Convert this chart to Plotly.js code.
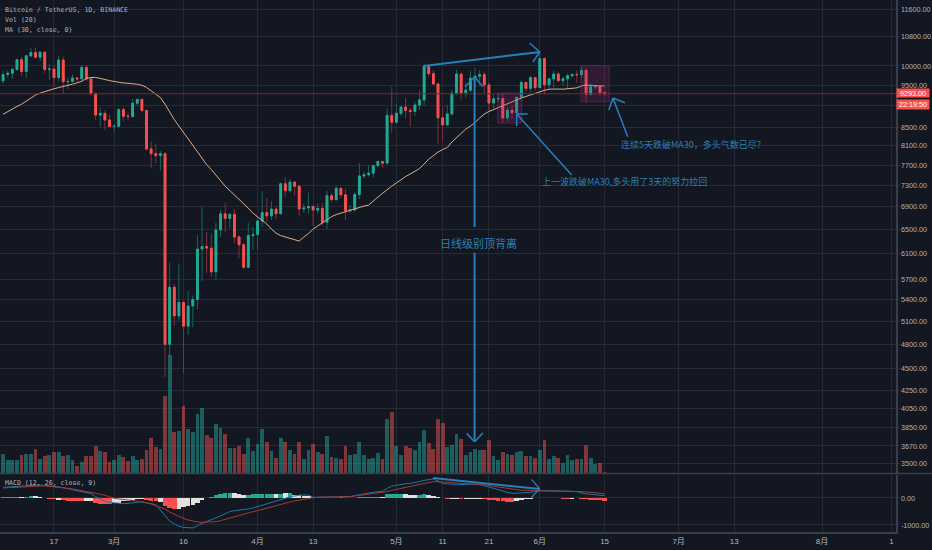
<!DOCTYPE html>
<html><head><meta charset="utf-8">
<script src="https://cdn.plot.ly/plotly-3.0.1.min.js"></script>
<style>html,body{margin:0;padding:0;background:#131722}#c{width:932px;height:550px}</style>
</head><body><div id="c"></div>
<script>
const firstDay = '2020-02-06';
const open = [9618,9777,9812,9910,10167,9855,10272,10360,10234,10371,9910,9920,9700,10160,9595,9601,9690,9665,9965,9663,9303,8785,8825,8672,
8523,8531,8913,8760,8752,9065,9155,8895,8035,7935,7895,7935,4800,5578,5172,5360,5034,5310,5400,6170,6210,6185,5810,6490,6770,6690,6760,6370,6240,5880,6395,
6412,6643,6794,6734,6856,6772,7329,7197,7361,7283,6858,6876,6903,6838,6868,6621,7101,7029,7242,7120,6826,6841,7125,7482,7505,7538,7693,7774,7738,8778,
8620,8826,8972,8894,8871,9021,9143,9986,9800,9539,8722,8561,8810,9309,9791,9316,9381,9680,9733,9775,9511,9068,9170,9179,8720,8900,8841,9204,9575,9427,9697,
9448,10200,9518,9666,9789,9621,9666,9746,9782,9772,9885,9280,9465,9474,9325];
const high = [9870,9880,9950,10180,10240,10290,10485,10500,10385,10385,10050,10030,10270,10250,9700,9780,9700,10025,10025,9670,9320,8970,8900,8795,
8580,8940,8960,8840,9170,9170,9180,8900,8190,8150,7990,7966,5960,5630,5940,5380,5525,5460,6400,6900,6450,6430,6610,6840,6970,6790,6860,6400,6270,6610,6540,
6680,7190,7060,7000,6900,7350,7460,7420,7380,7300,6960,7160,6925,6960,6970,7190,7150,7290,7260,7220,6930,7170,7740,7570,7700,7700,7795,7780,8950,9460,
9060,8995,9190,8950,9100,9380,10068,10040,9900,9570,8980,9020,9390,9900,9830,9580,9880,9950,9890,9860,9570,9270,9320,9300,8970,9010,9220,9625,9600,9740,9700,
10380,10230,9690,9880,9850,9730,9800,9800,9880,9990,9940,9555,9490,9495,9330];
const low = [9537,9700,9663,9880,9740,9690,10240,10190,10130,9810,9640,9470,9600,9300,9410,9570,9570,9600,9620,9230,8675,8520,8447,8510,
8411,8500,8640,8660,8730,9000,8850,8000,7640,7730,7590,4402,3782,5040,5110,4450,4920,5020,5260,5670,5790,5730,5690,6370,6450,6520,6270,6020,5860,5870,6150,
6150,6540,6630,6660,6675,6770,7070,7160,7110,6730,6790,6770,6560,6780,6560,6500,6990,7010,7055,6660,6790,6800,7040,7430,7470,7450,7660,7650,7730,8380,
8620,8760,8700,8520,8760,8900,9010,9720,9520,8130,8200,8550,8780,9260,9130,9190,9330,9470,9480,9300,8880,8950,9090,8630,8640,8700,8810,9110,9330,9340,9380,
9420,9270,9380,9450,9580,9500,9420,9700,9570,9700,9080,9250,9400,9250,9250];
const close = [9777,9812,9910,10167,9855,10272,10360,10234,10371,9910,9920,9700,10160,9595,9601,9690,9665,9965,9663,9303,8785,8825,8672,8523,
8531,8913,8760,8752,9065,9155,8895,8035,7935,7895,7935,4800,5578,5172,5360,5034,5310,5400,6170,6210,6185,5810,6490,6770,6690,6760,6370,6240,5880,6395,6412,
6643,6794,6734,6856,6772,7329,7197,7361,7283,6858,6876,6903,6838,6868,6621,7101,7029,7242,7120,6826,6841,7125,7482,7505,7538,7693,7774,7738,8778,8620,
8826,8972,8894,8871,9021,9143,9986,9800,9539,8722,8561,8810,9309,9791,9316,9381,9680,9733,9775,9511,9068,9170,9179,8720,8900,8841,9204,9575,9427,9697,9448,
10200,9518,9666,9789,9621,9666,9746,9782,9772,9885,9280,9465,9474,9325,9293];
const ma30 = [8803,8868,8926,8988,9042,9120,9203,9262,9310,9350,9381,9416,9446,9471,9497,9532,9566,9604,9675,9701,9704,9683,9658,9622,
9600,9577,9562,9554,9544,9529,9504,9449,9366,9288,9202,9042,8857,8683,8535,8390,8258,8118,7969,7833,7709,7609,7489,7391,7283,7198,7112,7046,6962,6872,6782,
6712,6650,6591,6503,6435,6393,6368,6351,6317,6301,6368,6427,6503,6555,6615,6659,6721,6757,6784,6811,6829,6856,6883,6910,6928,7011,7076,7146,7218,7283,
7345,7411,7470,7520,7579,7630,7720,7822,7895,7969,8022,8065,8182,8280,8380,8467,8535,8613,8717,8810,8868,8915,8962,9010,9059,9107,9141,9190,9227,9268,9307,
9344,9378,9406,9416,9411,9406,9411,9418,9439,9486,9511,9498,9490,9488,9486];
const volume = [19.3,13.3,13.3,13.3,18,18.7,18.7,24,14.3,17,17.7,21,20.7,16.7,18,12.7,7.3,11.3,16.7,16.7,27.3,22,21.3,11.3,
13.3,18.3,16.3,12,17.3,13.3,13.7,23.3,35,25.7,23.7,76.7,118,40.7,41.7,66.7,44.3,40.7,58.7,65,38,35.3,48.7,45,39.3,24.7,24.7,27.3,19,35.3,22,
29.3,44.3,31,22,15.3,35.3,31,23,19,31,13.7,22.7,28.7,21,18.7,37.3,16,15.3,13.7,26.7,18,18.7,30.7,18,13.7,15.3,19.7,14.3,54.3,61,
27,17.7,26.7,25,22.7,31.3,43.3,30,24.3,54.3,50,26,27.7,38.7,34.3,18,20.7,24.3,23.3,22.7,32.7,17.3,13.3,21,19,17.7,20.7,22.3,17.3,16.7,14.7,
22.7,32.7,14.3,17,15.3,10,17.7,12.7,13.7,14.3,28.3,15.3,9,9.7,1.3];
const macdLine = [395,408,420,432,445,457,469,482,482,469,457,445,408,383,346,309,284,247,210,161,49,-49,-124,-161,
-185,-210,-210,-198,-185,-161,-136,-173,-198,-247,-445,-667,-852,-963,-1050,-1087,-1112,-1112,-1025,-939,-865,-803,-741,-667,-580,-506,-469,-457,-445,-408,-371,
-321,-272,-210,-173,-136,-86,-12,49,86,99,111,111,25,25,37,37,37,37,37,49,49,86,124,148,173,210,235,247,358,432,
469,506,531,543,568,605,655,692,704,630,543,519,506,494,494,494,506,519,506,457,420,358,309,247,210,173,173,185,198,210,247,
272,272,272,272,272,259,259,247,235,185,148,136,111,99,86];
const signalLine = [370,380,395,408,420,432,445,445,445,445,432,420,408,383,358,333,309,272,235,210,161,136,99,37,
-12,-37,-49,-62,-74,-111,-148,-173,-222,-284,-333,-408,-519,-605,-679,-753,-815,-865,-889,-902,-902,-889,-877,-840,-790,-729,-679,-630,-580,-531,-506,
-469,-420,-383,-333,-284,-235,-185,-148,-111,-74,-49,-12,12,25,25,37,37,37,37,49,49,74,99,123,136,161,185,198,235,284,
321,358,383,420,445,482,519,568,605,605,593,580,568,556,543,531,519,519,506,494,469,432,407,370,333,309,296,284,284,272,272,
259,259,259,259,259,259,247,247,247,235,222,210,198,173,161];
const histogram = [37,37,49,49,49,49,62,62,49,0,-49,-49,-62,-86,-98,-98,-111,-123,-123,-98,-185,-209,-221,-221,
-185,-185,-123,-98,-62,-49,-37,-74,-111,-123,-135,-308,-369,-394,-406,-344,-308,-271,-172,-74,-12,37,98,135,172,197,172,148,123,123,135,
135,148,148,148,148,148,172,172,123,98,74,62,25,25,12,12,12,12,25,12,12,12,25,37,37,49,49,49,135,160,
160,160,148,123,111,123,148,123,86,49,-12,-37,-37,-25,-37,-37,-37,-37,-37,-37,-62,-86,-98,-123,-135,-148,-111,-86,-49,-25,-12,
12,-12,-12,0,-12,-25,-25,-25,-12,-25,-49,-74,-74,-86,-98];
const histShade = ('ggggwggwwwrrwrrrrrwwrrrrwwwwwwwrrrwrrrwwwwwwwggggg'+'wwwggggggwgwgwwwwgggggggwwggggggwggggwwwggwwwrrwwr'+'wwwwrrrrrrrwwwwwgwwwrrrwwrrrrrr').split('');
const axisTicksX = ['2020-02-17','2020-03-01','2020-03-16','2020-04-01','2020-04-13','2020-05-01','2020-05-11','2020-05-21','2020-06-01','2020-06-15','2020-07-01','2020-07-13','2020-08-01','2020-08-16'];
const axisLabelsX = ['17','3月','16','4月','13','5月','11','21','6月','15','7月','13','8月','1'];
const priceTicks = [11600,10800,10000,9500,9000,8500,8100,7700,7300,6900,6500,6100,5700,5400,5100,4800,4500,4250,4050,3850,3670,3500];
const priceTickHidden = [9000];
const macdTicks = [0,-1000];
const legendLines = ['Bitcoin / TetherUS, 1D, BINANCE','Vol (20)','MA (30, close, 0)'];
const macdLegend = 'MACD (12, 26, close, 9)';
const noteBig = '日线级别顶背离';
const noteMid = '上一波跌破MA30,多头用了3天的努力拉回';
const noteRight = '连续5天跌破MA30，多头气数已尽?';
const lastPriceText = '9293.00';
const countdownText = '22:19:50';
/* analyst's drawings on the chart: [day index, price, day index, price] */
const trendSegments = [
 [90.9,10000,116,10376,2],[113.8,10626,116,10376,1.5],[114.5,10106,116,10376,1.5],
 [101.9,9714,101.9,6539,2],[101.9,6110,101.9,3711,2],
 [99.9,9468,101.9,9714,1.5],[103.7,9468,101.9,9714,1.5],[100.2,3794,101.9,3711,1.5],[103.7,3798,101.9,3711,1.5],
 [122.9,7500,111,8810,1.5],[113.4,8810,111,8810,1.5],[111,8535,111,8810,1.5],
 [135,8298,131.8,9190,1.5],[130.9,8903,131.8,9190,1.5],[134.4,9077,131.8,9190,1.5]];
const macdSegments = [[92.9,740,116,333,2],[114.2,692,116,333,1.2],[114.2,26,116,333,1.2]];
const zoneBoxes = [[106.9,9312,112.1,8604],[124.9,10008,131,9101]];

const C = {bg:'#131722',grid:'#262a35',axis:'#3a3e4a',text:'#b2b5be',up:'#22ab94',down:'#f9504f',upW:'#1a625f',downW:'#7e3138',
  volUp:'rgba(38,166,154,0.5)',volDown:'rgba(239,83,80,0.5)',ma:'#e0ad85',macd:'#1b78ad',sig:'#a53a2e',note:'#2481bd',noteText:'#2a80b2',light:'#e3e0dc'};
const DAY = 86400000, t0 = Date.parse(firstDay+'T00:00:00Z');
const dayAt = i => new Date(t0 + i*DAY).toISOString().slice(0,19).replace('T',' ');
const dates = close.map((_,i)=>dayAt(i));
const W=896,H=532;
const px = x=>x/W, py = y=>1-y/H;
const up = close.map((c,i)=>c>=open[i]);
const mono = '"DejaVu Sans Mono",monospace', sans='"Liberation Sans","Noto Sans CJK SC",sans-serif', cjk='"Noto Sans CJK SC",sans-serif';

const traces = [
 {type:'bar',x:dates,y:volume,xaxis:'x',yaxis:'y',width:DAY*0.82,marker:{color:up.map(u=>u?C.volUp:C.volDown),line:{width:0}},hoverinfo:'skip'},
 {type:'candlestick',x:dates,open,high,low,close,xaxis:'x',yaxis:'y2',whiskerwidth:0,hoverinfo:'skip',
  increasing:{line:{color:C.upW,width:1},fillcolor:C.upW},decreasing:{line:{color:C.downW,width:1},fillcolor:C.downW}},
 {type:'candlestick',x:dates,open,close,high:close.map((c,i)=>Math.max(c,open[i])),low:close.map((c,i)=>Math.min(c,open[i])),xaxis:'x',yaxis:'y2',whiskerwidth:0,hoverinfo:'skip',
  increasing:{line:{color:C.up,width:1},fillcolor:C.up},decreasing:{line:{color:C.down,width:1},fillcolor:C.down}},
 {type:'scatter',mode:'lines',x:dates,y:ma30,xaxis:'x',yaxis:'y2',line:{color:C.ma,width:1},hoverinfo:'skip'},
 {type:'bar',x:dates,y:histogram,xaxis:'x',yaxis:'y3',width:DAY*0.98,marker:{color:histShade.map(s=>s==='g'?C.up:s==='r'?C.down:C.light),line:{width:0}},hoverinfo:'skip'},
 {type:'scatter',mode:'lines',x:dates,y:macdLine,xaxis:'x',yaxis:'y3',line:{color:C.macd,width:1},hoverinfo:'skip'},
 {type:'scatter',mode:'lines',x:dates,y:signalLine,xaxis:'x',yaxis:'y3',line:{color:C.sig,width:1},hoverinfo:'skip'}
];

const shapes = [];
zoneBoxes.forEach(b=>shapes.push({type:'rect',xref:'x',yref:'y2',x0:dayAt(b[0]),x1:dayAt(b[2]),y0:b[1],y1:b[3],layer:'above',
  fillcolor:'rgba(156,39,120,0.22)',line:{color:'rgba(156,39,120,0.45)',width:1}}));
shapes.push({type:'line',xref:'paper',yref:'y2',x0:0,x1:1,y0:close[close.length-1],y1:close[close.length-1],layer:'above',line:{color:'#6e2c33',width:1}});
trendSegments.forEach(s=>shapes.push({type:'line',xref:'x',yref:'y2',x0:dayAt(s[0]),y0:s[1],x1:dayAt(s[2]),y1:s[3],layer:'above',line:{color:C.note,width:s[4]}}));
macdSegments.forEach(s=>shapes.push({type:'line',xref:'x',yref:'y3',x0:dayAt(s[0]),y0:s[1],x1:dayAt(s[2]),y1:s[3],layer:'above',line:{color:C.note,width:s[4]}}));
shapes.push({type:'line',xref:'paper',yref:'paper',x0:0,x1:1+36/W,y0:py(473.5),y1:py(473.5),layer:'above',line:{color:C.axis,width:1.5}});

const label = (text,x,y,size,color,family,anchor)=>({text,xref:'paper',yref:'paper',x:px(x),y:py(y),xanchor:anchor||'left',yanchor:'middle',showarrow:false,font:{size,color,family}});
const annotations = [
 label(legendLines[0],3,10,6.6,C.text,mono),
 label(legendLines[1],3,20,6.6,C.text,mono),
 label(legendLines[2],3,30,6.6,C.text,mono),
 label(macdLegend,3,483,6.6,C.text,mono),
 label(noteBig,478,243,11,C.noteText,cjk,'center'),
 label(noteMid,540,181,9,C.noteText,cjk),
 label(noteRight,619,144,9,C.noteText,cjk),
 {text:lastPriceText,xref:'paper',yref:'paper',x:1,y:py(93.5),xanchor:'left',yanchor:'middle',showarrow:false,bgcolor:C.down,width:32,height:8,borderpad:0,font:{size:7.2,color:'#fff',family:sans}},
 {text:countdownText,xref:'paper',yref:'paper',x:1,y:py(104.5),xanchor:'left',yanchor:'middle',showarrow:false,bgcolor:C.down,width:32,height:9,borderpad:0,font:{size:7.2,color:'#fff',family:sans}}
];

const layout = {
 width:932,height:550,margin:{l:0,r:36,t:0,b:18},paper_bgcolor:C.bg,plot_bgcolor:C.bg,showlegend:false,bargap:0,boxmode:'overlay',boxgap:0.45,
 font:{family:sans,color:C.text,size:7.2},
 xaxis:{type:'date',range:['2020-02-05 08:00','2020-08-16 23:36'],tickmode:'array',tickvals:axisTicksX,ticktext:axisLabelsX,anchor:'y3',
   rangeslider:{visible:false},showgrid:true,gridcolor:C.grid,gridwidth:1,showline:true,linecolor:C.axis,linewidth:1.5,ticks:'',ticklabelstandoff:1,tickangle:0,tickfont:{size:8,family:sans,color:C.text},zeroline:false},
 yaxis:{domain:[1-473/H,1],range:[0,473],visible:false,showgrid:false,zeroline:false,fixedrange:true},
 yaxis2:{overlaying:'y',side:'right',type:'log',range:[3.5337,4.0756],tickmode:'array',tickvals:priceTicks,ticktext:priceTicks.map(v=>priceTickHidden.includes(v)?' ':v.toFixed(2)),
   showgrid:true,gridcolor:C.grid,gridwidth:1,ticks:'outside',ticklen:2,tickcolor:C.grid,showline:true,linecolor:C.axis,linewidth:1.5,zeroline:false,tickfont:{size:7.2,family:sans,color:C.text},anchor:'x'},
 yaxis3:{domain:[0,(H-474.5)/H],range:[-1260,870],side:'right',tickmode:'array',tickvals:macdTicks,ticktext:macdTicks.map(v=>v.toFixed(2)),anchor:'x',
   showgrid:true,gridcolor:C.grid,gridwidth:1,ticks:'outside',ticklen:2,tickcolor:C.grid,showline:true,linecolor:C.axis,linewidth:1.5,zeroline:false,tickfont:{size:7.2,family:sans,color:C.text}},
 shapes,annotations
};
Plotly.newPlot('c',traces,layout,{displayModeBar:false,staticPlot:true});
</script></body></html>
